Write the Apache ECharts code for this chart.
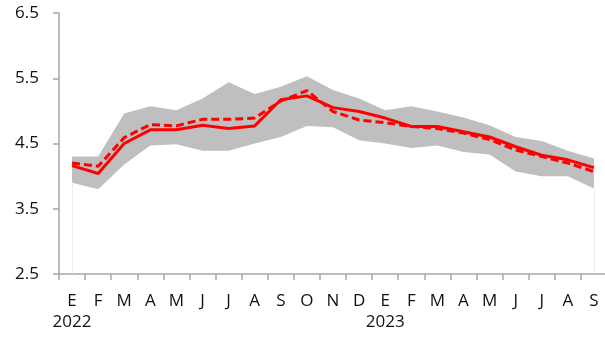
<!DOCTYPE html>
<html>
<head>
<meta charset="utf-8">
<script src="https://cdn.jsdelivr.net/npm/echarts@6/dist/echarts.min.js"></script>
<style>html,body{margin:0;padding:0;background:#fff}#c{width:605px;height:337px}</style>
</head>
<body>
<div id="c"></div>
<script>
const months = ['E','F','M','A','M','J','J','A','S','O','N','D','E','F','M','A','M','J','J','A','S'];
const years = {0:'2022', 12:'2023'};
const bandMax = [4.30,4.30,4.96,5.07,5.01,5.19,5.44,5.26,5.37,5.53,5.32,5.19,5.01,5.07,4.99,4.90,4.78,4.60,4.54,4.39,4.27];
const bandMin = [3.90,3.80,4.18,4.47,4.49,4.39,4.39,4.50,4.60,4.77,4.75,4.55,4.50,4.43,4.47,4.37,4.33,4.07,4.00,4.00,3.81];
const solid  = [4.16,4.04,4.50,4.71,4.71,4.78,4.73,4.77,5.17,5.23,5.05,4.99,4.89,4.76,4.76,4.68,4.60,4.45,4.32,4.25,4.13];
const dashed = [4.20,4.15,4.59,4.79,4.77,4.87,4.87,4.89,5.15,5.31,4.99,4.86,4.82,4.76,4.73,4.66,4.56,4.40,4.30,4.20,4.07];
const yTicks = [2.5,3.5,4.5,5.5,6.5];

const cats = months.map((m,i)=>m+'|'+i);
const bandSpan = bandMax.map((v,i)=>+(v-bandMin[i]).toFixed(3));
const last = months.length-1;
const FONT = 'Open Sans';

const chart = echarts.init(document.getElementById('c'), null, {renderer:'canvas'});
chart.setOption({
  animation:false,
  grid:{left:59, right:-2, top:13, bottom:63, outerBoundsMode:'none'},
  xAxis:{
    type:'category', data:cats, boundaryGap:true,
    axisLine:{lineStyle:{color:'#a6a6a6', width:1.5}},
    axisTick:{show:true, length:6, lineStyle:{color:'#a6a6a6', width:1.5}},
    axisLabel:{
      interval:0, margin:17, color:'#111', fontFamily:FONT, fontSize:17, lineHeight:21,
      formatter:(v)=>{const [m,i]=v.split('|'); return years[i] ? m+'\n'+years[i] : m+'\n ';}
    }
  },
  yAxis:{
    type:'value', min:yTicks[0], max:yTicks[yTicks.length-1], interval:1,
    splitLine:{show:false},
    axisLine:{show:true, lineStyle:{color:'#a6a6a6', width:1.5}},
    axisTick:{show:true, length:6, lineStyle:{color:'#a6a6a6', width:1.5}},
    axisLabel:{margin:20, color:'#111', fontFamily:FONT, fontSize:17, formatter:(v)=>v.toFixed(1)}
  },
  series:[
    {type:'line', data:bandMin, stack:'band', symbol:'none', lineStyle:{width:0, opacity:0}, silent:true,
      markLine:{symbol:'none', silent:true, label:{show:false}, lineStyle:{color:'#ececec', width:1, type:'solid'},
        data:[
          [{coord:[0, yTicks[0]]},{coord:[0, bandMin[0]]}],
          [{coord:[last, yTicks[0]]},{coord:[last, bandMin[last]]}]
        ]}},
    {type:'line', data:bandSpan, stack:'band', symbol:'none', lineStyle:{width:0, opacity:0}, areaStyle:{color:'#bfbfbf', opacity:1}, silent:true},
    {type:'line', data:solid, symbol:'none', lineStyle:{color:'#ff0000', width:3}, z:3},
    {type:'line', data:dashed, symbol:'none', lineStyle:{color:'#ff0000', width:3, type:[8,4]}, z:4}
  ]
});
</script>
</body>
</html>
